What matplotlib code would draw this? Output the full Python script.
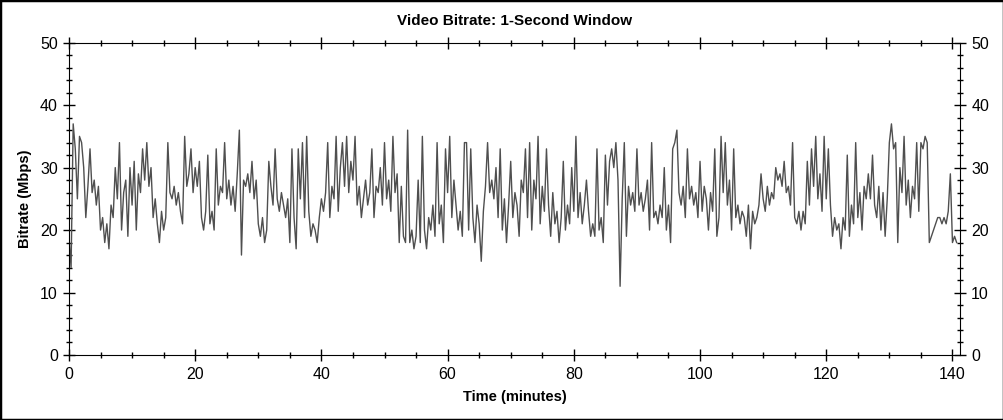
# bitrate.py
# video bitrate over time, 1-second window

import matplotlib
matplotlib.use("Agg")
import matplotlib.pyplot as plt
import numpy as np
from matplotlib.ticker import MultipleLocator
from matplotlib.patches import Rectangle

plt.rcParams['font.family'] = ['Liberation Sans', 'DejaVu Sans']

# samples every 20 s (3 per minute)
bitrate_mbps = [
    19, 14, 37, 33, 25, 35, 34, 30, 22, 27, 33, 26, 28, 24, 27, 20, 22, 18, 21, 17, 24, 22, 30, 25, 34, 20, 26, 28, 19, 30,
    24, 31, 20, 29, 26, 33, 28, 34, 27, 30, 22, 25, 21, 18, 23, 20, 22, 34, 26, 25, 27, 24, 26, 23, 21, 35, 27, 29, 33, 26,
    30, 27, 31, 22, 20, 23, 32, 21, 23, 20, 33, 24, 27, 26, 34, 25, 28, 24, 27, 23, 29, 36, 16, 28, 27, 29, 26, 31, 25, 28,
    21, 19, 22, 18, 20, 31, 27, 24, 33, 25, 23, 26, 24, 22, 25, 18, 33, 22, 17, 33, 25, 34, 22, 35, 23, 19, 21, 20, 18, 22,
    25, 23, 26, 34, 22, 27, 25, 35, 23, 30, 34, 27, 35, 26, 31, 28, 35, 24, 27, 22, 25, 28, 24, 26, 33, 22, 27, 26, 30, 24,
    34, 25, 28, 23, 35, 26, 29, 18, 27, 19, 18, 36, 18, 20, 17, 19, 28, 18, 35, 20, 17, 22, 20, 24, 19, 34, 21, 24, 18, 33,
    26, 35, 22, 28, 24, 20, 23, 19, 34, 34, 20, 33, 22, 18, 24, 21, 15, 23, 27, 34, 26, 28, 25, 30, 22, 33, 20, 25, 18, 24,
    31, 22, 26, 24, 19, 28, 26, 33, 22, 34, 20, 28, 25, 35, 21, 27, 23, 33, 24, 19, 26, 21, 23, 18, 22, 31, 20, 24, 21, 30,
    23, 35, 22, 26, 21, 24, 28, 23, 19, 21, 19, 33, 20, 22, 18, 32, 24, 31, 33, 30, 34, 28, 11, 25, 34, 19, 27, 24, 26, 23,
    33, 24, 26, 23, 25, 28, 20, 34, 22, 23, 21, 24, 22, 30, 20, 24, 18, 33, 34, 36, 26, 24, 27, 22, 33, 25, 27, 24, 26, 22,
    31, 23, 27, 25, 20, 26, 23, 33, 19, 22, 35, 26, 34, 24, 28, 20, 33, 22, 24, 21, 23, 22, 19, 24, 17, 23, 21, 22, 24, 29,
    25, 23, 27, 24, 26, 25, 30, 28, 29, 27, 31, 26, 27, 24, 34, 22, 21, 23, 20, 23, 21, 31, 24, 33, 27, 35, 25, 29, 23, 35,
    25, 33, 24, 19, 22, 20, 21, 17, 22, 20, 32, 19, 24, 21, 34, 22, 26, 20, 27, 25, 29, 25, 32, 24, 22, 27, 20, 26, 19, 25,
    34, 37, 33, 34, 18, 30, 26, 35, 24, 28, 22, 27, 25, 34, 23, 34, 33, 35, 34, 18, 19, 20, 21, 22, 22, 21, 22, 21, 23, 29,
    18, 19, 18,
]
time_min = np.arange(len(bitrate_mbps)) / 3.0

fig = plt.figure(figsize=(10.04, 4.2), dpi=100)
ax = fig.add_axes([0.0687, 0.1548, 0.8875, 0.7436])

ax.plot(time_min, bitrate_mbps, color='#4f4f4f', lw=1.0)

ax.set_xlim(0, 141.2)
ax.set_ylim(0, 50)
ax.xaxis.set_major_locator(MultipleLocator(20))
ax.xaxis.set_minor_locator(MultipleLocator(5))
ax.yaxis.set_major_locator(MultipleLocator(10))
ax.yaxis.set_minor_locator(MultipleLocator(2))

ax.tick_params(which='major', direction='inout', length=9, width=1,
               top=True, right=True, labelright=True, labelsize=11.5)
ax.tick_params(which='minor', direction='inout', length=4, width=1,
               top=True, right=True)
ax.tick_params(axis='x', pad=4)

ax.set_title("Video Bitrate: 1-Second Window", fontsize=11, fontweight='bold', pad=13)
ax.set_xlabel("Time (minutes)", fontsize=10.5, fontweight='bold', labelpad=6)
ax.set_ylabel("Bitrate (Mbps)", fontsize=10.5, fontweight='bold', labelpad=6)

# black frame round the whole picture
fig.patches.append(Rectangle((0, 0), 1, 1, transform=fig.transFigure,
                             fill=False, edgecolor='black', lw=2.5))

fig.savefig("out.png", dpi=100)
